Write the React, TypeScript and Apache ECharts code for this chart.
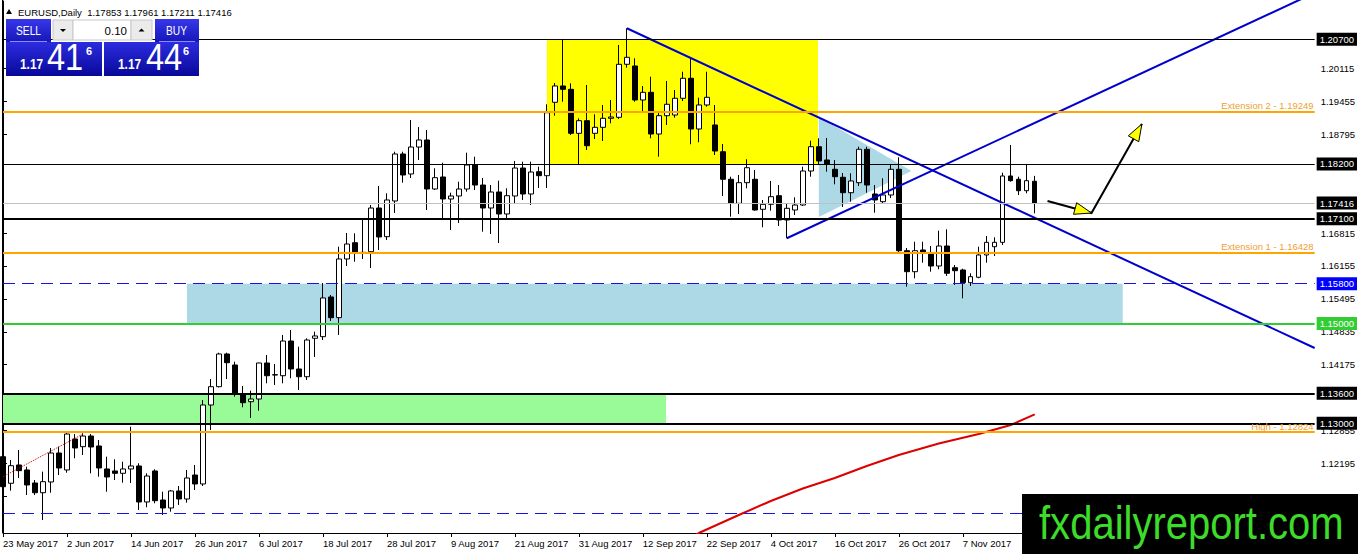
import { useEffect, useRef } from 'react';
import * as echarts from 'echarts';

const FONT = '"Liberation Sans", Arial, sans-serif';

// one tick label every 8 daily bars, starting at bar 0
const xTickLabels = [
  '23 May 2017', '2 Jun 2017', '14 Jun 2017', '26 Jun 2017', '6 Jul 2017', '18 Jul 2017',
  '28 Jul 2017', '9 Aug 2017', '21 Aug 2017', '31 Aug 2017', '12 Sep 2017', '22 Sep 2017',
  '4 Oct 2017', '16 Oct 2017', '26 Oct 2017', '7 Nov 2017',
];

// the ticks that the price boxes do not cover
const yTickValues = [
  1.20115, 1.19455, 1.18795, 1.16815, 1.16155,
  1.15495, 1.14835, 1.14175, 1.12855, 1.12195, 1.11535,
];

// EURUSD daily, [open, high, low, close]
const candles = [
  [1.12330, 1.12665, 1.11703, 1.11729], [1.11797, 1.12264, 1.11649, 1.12150],
  [1.12164, 1.12465, 1.11903, 1.12050], [1.12064, 1.12130, 1.11562, 1.11763],
  [1.11803, 1.11863, 1.11562, 1.11608], [1.11608, 1.12030, 1.11061, 1.11829],
  [1.11823, 1.12505, 1.11608, 1.12404], [1.12404, 1.12531, 1.11963, 1.12104],
  [1.12064, 1.12832, 1.12009, 1.12785], [1.12685, 1.12785, 1.12298, 1.12505],
  [1.12531, 1.12800, 1.12364, 1.12745], [1.12745, 1.12785, 1.11997, 1.12525],
  [1.12545, 1.12665, 1.11929, 1.12104], [1.12084, 1.12330, 1.11628, 1.11923],
  [1.12044, 1.12278, 1.11863, 1.11997], [1.11997, 1.12230, 1.11809, 1.12084],
  [1.12084, 1.12932, 1.11803, 1.12144], [1.12144, 1.12198, 1.11262, 1.11422],
  [1.11422, 1.11997, 1.11316, 1.11943], [1.12044, 1.12078, 1.11396, 1.11448],
  [1.11462, 1.11628, 1.11161, 1.11302], [1.11302, 1.11663, 1.11227, 1.11643],
  [1.11643, 1.11743, 1.11362, 1.11482], [1.11482, 1.12064, 1.11408, 1.11903],
  [1.11963, 1.12164, 1.11663, 1.11783], [1.11783, 1.13467, 1.11743, 1.13367],
  [1.13367, 1.13888, 1.12866, 1.13734], [1.13734, 1.14416, 1.13720, 1.14390],
  [1.14390, 1.14416, 1.13888, 1.14215], [1.14169, 1.14235, 1.13533, 1.13608],
  [1.13588, 1.13748, 1.13321, 1.13413], [1.13433, 1.13654, 1.13106, 1.13487],
  [1.13487, 1.14215, 1.13253, 1.14209], [1.14209, 1.14370, 1.13802, 1.13954],
  [1.13968, 1.14189, 1.13768, 1.13975], [1.13954, 1.14771, 1.13802, 1.14650],
  [1.14650, 1.14871, 1.13902, 1.14089], [1.14089, 1.14536, 1.13668, 1.13934],
  [1.13934, 1.14704, 1.13868, 1.14670], [1.14704, 1.14837, 1.14329, 1.14751],
  [1.14737, 1.15813, 1.14670, 1.15513], [1.15533, 1.15573, 1.15051, 1.15118],
  [1.15118, 1.16541, 1.14771, 1.16295], [1.16295, 1.16816, 1.16154, 1.16595],
  [1.16621, 1.16810, 1.16240, 1.16409], [1.16421, 1.17077, 1.16295, 1.16428],
  [1.16441, 1.17377, 1.16114, 1.17317], [1.17317, 1.17758, 1.16475, 1.16736],
  [1.16742, 1.17612, 1.16676, 1.17478], [1.17458, 1.18446, 1.17217, 1.18400],
  [1.18400, 1.18446, 1.17825, 1.17979], [1.17999, 1.19082, 1.17919, 1.18540],
  [1.18540, 1.18941, 1.18280, 1.18681], [1.18681, 1.18881, 1.17277, 1.17698],
  [1.17698, 1.18113, 1.17678, 1.17925], [1.17939, 1.18226, 1.17117, 1.17498],
  [1.17498, 1.17624, 1.16876, 1.17558], [1.17558, 1.17845, 1.17016, 1.17698],
  [1.17698, 1.18426, 1.17644, 1.18179], [1.18179, 1.18346, 1.17678, 1.17778],
  [1.17778, 1.17919, 1.16842, 1.17317], [1.17317, 1.17778, 1.16796, 1.17638],
  [1.17638, 1.17865, 1.16615, 1.17197], [1.17197, 1.17712, 1.17077, 1.17564],
  [1.17558, 1.18260, 1.17411, 1.18119], [1.18119, 1.18246, 1.17478, 1.17598],
  [1.17598, 1.18246, 1.17377, 1.18039], [1.18045, 1.18145, 1.17718, 1.17965],
  [1.17965, 1.19397, 1.17718, 1.19228], [1.19437, 1.19824, 1.19168, 1.19764],
  [1.19764, 1.20686, 1.19449, 1.19697], [1.19697, 1.19818, 1.18781, 1.18815],
  [1.18815, 1.19116, 1.18194, 1.19068], [1.19068, 1.19784, 1.18480, 1.18566],
  [1.18815, 1.19196, 1.18701, 1.18935], [1.18935, 1.19383, 1.18661, 1.19116],
  [1.19116, 1.19483, 1.19016, 1.19142], [1.19136, 1.20586, 1.19102, 1.20199],
  [1.20199, 1.20921, 1.20131, 1.20339], [1.20165, 1.20319, 1.19449, 1.19483],
  [1.19483, 1.19764, 1.19262, 1.19637], [1.19637, 1.19950, 1.18715, 1.18801],
  [1.18801, 1.19236, 1.18346, 1.19168], [1.19168, 1.19864, 1.18982, 1.19397],
  [1.19182, 1.19683, 1.19128, 1.19517], [1.19517, 1.20050, 1.19463, 1.19918],
  [1.19918, 1.20319, 1.18595, 1.18901], [1.18901, 1.19529, 1.18635, 1.19383],
  [1.19383, 1.20050, 1.19349, 1.19537], [1.18982, 1.19383, 1.18380, 1.18460],
  [1.18446, 1.18601, 1.17558, 1.17893], [1.17893, 1.17945, 1.17143, 1.17411],
  [1.17411, 1.17979, 1.17197, 1.17825], [1.17825, 1.18294, 1.17712, 1.18125],
  [1.17893, 1.18079, 1.17263, 1.17277], [1.17291, 1.17478, 1.16930, 1.17391],
  [1.17391, 1.17859, 1.17263, 1.17544], [1.17564, 1.17778, 1.16956, 1.17077],
  [1.17077, 1.17411, 1.16710, 1.17311], [1.17277, 1.17532, 1.17177, 1.17377],
  [1.17377, 1.18145, 1.17357, 1.18059], [1.18059, 1.18667, 1.17945, 1.18546],
  [1.18546, 1.18715, 1.18179, 1.18260], [1.18280, 1.18721, 1.18045, 1.18200],
  [1.18093, 1.18280, 1.17792, 1.17945], [1.17933, 1.18019, 1.17337, 1.17624],
  [1.17624, 1.18013, 1.17444, 1.17859], [1.17825, 1.18546, 1.17758, 1.18494],
  [1.18494, 1.18546, 1.17624, 1.17778], [1.17598, 1.17778, 1.17223, 1.17478],
  [1.17444, 1.17913, 1.17411, 1.17578], [1.17578, 1.18179, 1.17518, 1.18093],
  [1.18093, 1.18334, 1.16395, 1.16461], [1.16461, 1.16515, 1.15739, 1.16040],
  [1.16040, 1.16641, 1.15908, 1.16461], [1.16475, 1.16641, 1.16220, 1.16421],
  [1.16409, 1.16555, 1.16040, 1.16154], [1.16154, 1.16862, 1.16088, 1.16555],
  [1.16555, 1.16890, 1.15954, 1.16008], [1.16120, 1.16174, 1.15773, 1.16060],
  [1.16074, 1.16100, 1.15506, 1.15819], [1.15819, 1.16008, 1.15753, 1.15940],
  [1.15928, 1.16541, 1.15908, 1.16375], [1.16375, 1.16756, 1.16220, 1.16629],
  [1.16541, 1.16730, 1.16355, 1.16629], [1.16629, 1.18025, 1.16575, 1.17959],
  [1.17959, 1.18581, 1.17845, 1.17865], [1.17893, 1.17945, 1.17578, 1.17664],
  [1.17664, 1.18200, 1.17612, 1.17865], [1.17853, 1.17961, 1.17211, 1.17416],
];

// horizontal levels drawn on the chart
const levelValues = [1.207, 1.19249, 1.182, 1.17416, 1.171, 1.16428, 1.158, 1.15, 1.136, 1.13, 1.12824, 1.112];
const levelCaptions = ['', 'Extension 2 - 1.19249', '', '', '', 'Extension 1 - 1.16428', '', '', '', '', 'High - 1.12824', ''];

// [bar, price] points
const maPoints = [
  [86, 1.10700], [87, 1.10800], [92, 1.11161], [96, 1.11442], [100, 1.11693], [104, 1.11903],
  [108, 1.12144], [112, 1.12364], [117, 1.12595], [122, 1.12785], [126, 1.12966], [129, 1.13180],
];
const dottedPoints = [[0, 1.11929], [10, 1.12785]];
const downTrend = [[78, 1.20921], [164, 1.14510]];
const upTrend = [[98, 1.16710], [164, 1.21632]];
const arrowPath = [[130.6, 1.17458], [136.1, 1.17217], [142.4, 1.19002]];

// zones: [fromBar, toBar, lowPrice, highPrice]
const yellowZone = [68, 101.9, 1.182, 1.207];
const blueZone = [23, 140, 1.15, 1.158];
const greenZone = [0, 82.9, 1.13, 1.136];
const blueWedge = [[102, 1.19142], [102, 1.17137], [113.6, 1.18059]];

const BAR_SLOTS = 165;

const levelLook = [
  { color: '#000000', width: 1, box: '#000000' },
  { color: '#FFA500', width: 2 },
  { color: '#000000', width: 1, box: '#000000' },
  { color: '#C0C0C0', width: 1, box: '#000000' },
  { color: '#000000', width: 2, box: '#000000' },
  { color: '#FFA500', width: 2 },
  { color: '#1414E6', width: 1.2, dash: true, box: '#0000FF' },
  { color: '#32CD32', width: 2, box: '#32CD32' },
  { color: '#000000', width: 2, box: '#000000' },
  { color: '#000000', width: 2, box: '#000000' },
  { color: '#FFA500', width: 2 },
  { color: '#1414E6', width: 1.2, dash: true },
];

const grad = (top: string, bottom: string) =>
  new echarts.graphic.LinearGradient(0, 0, 0, 1, [
    { offset: 0, color: top },
    { offset: 1, color: bottom },
  ]);

const txt = (
  text: string,
  x: number,
  y: number,
  size: number,
  fill: string,
  align = 'left',
  weight = 'normal',
  scaleX = 1,
) => ({
  type: 'text',
  x,
  y,
  scaleX,
  style: {
    text,
    fill,
    fontSize: size,
    fontFamily: FONT,
    fontWeight: weight,
    align,
    textAlign: align,
    verticalAlign: 'middle',
    textVerticalAlign: 'middle',
  },
});

function panelGraphics() {
  const els: any[] = [];
  // left frame of the chart window
  els.push({ type: 'line', shape: { x1: 2.5, y1: 0, x2: 2.5, y2: 533 }, style: { stroke: '#000', lineWidth: 1 } });

  // title
  els.push({ type: 'polygon', shape: { points: [[6, 14], [12, 14], [9, 9]] }, style: { fill: '#000' } });
  els.push(txt('EURUSD,Daily  1.17853 1.17961 1.17211 1.17416', 18, 12, 9.5, '#000'));

  // sell / buy buttons
  els.push({ type: 'rect', shape: { x: 6, y: 19, width: 45, height: 23 }, style: { fill: grad('#3838ea', '#1616b8') } });
  els.push({ type: 'line', shape: { x1: 10, y1: 41.5, x2: 47, y2: 41.5 }, style: { stroke: '#8a8aff', lineWidth: 1 } });
  els.push(txt('SELL', 28.5, 30.5, 12, '#fff', 'center', 'normal', 0.85));
  els.push({ type: 'rect', shape: { x: 155, y: 19, width: 44, height: 23 }, style: { fill: grad('#3838ea', '#1616b8') } });
  els.push({ type: 'line', shape: { x1: 159, y1: 41.5, x2: 195, y2: 41.5 }, style: { stroke: '#8a8aff', lineWidth: 1 } });
  els.push(txt('BUY', 176.5, 30.5, 12, '#fff', 'center', 'normal', 0.85));

  // lot size spinner
  els.push({ type: 'rect', shape: { x: 53, y: 20, width: 20, height: 20 }, style: { fill: '#ebebeb', stroke: '#c8c8c8', lineWidth: 1 } });
  els.push({ type: 'polygon', shape: { points: [[60, 29], [66, 29], [63, 32]] }, style: { fill: '#000' } });
  els.push({ type: 'rect', shape: { x: 73, y: 20, width: 58, height: 20 }, style: { fill: '#fff', stroke: '#c8c8c8', lineWidth: 1 } });
  els.push(txt('0.10', 127, 30.5, 11.5, '#000', 'right'));
  els.push({ type: 'rect', shape: { x: 131, y: 20, width: 21, height: 20 }, style: { fill: '#ebebeb', stroke: '#c8c8c8', lineWidth: 1 } });
  els.push({ type: 'polygon', shape: { points: [[138.5, 31.5], [144.5, 31.5], [141.5, 28.5]] }, style: { fill: '#000' } });

  // quotes
  els.push({ type: 'rect', shape: { x: 6, y: 42, width: 96, height: 34 }, style: { fill: grad('#2c2ce0', '#08089a') } });
  els.push({ type: 'rect', shape: { x: 104, y: 42, width: 95, height: 34 }, style: { fill: grad('#2c2ce0', '#08089a') } });
  els.push(txt('1.17', 20, 64, 14, '#fff', 'left', 'bold', 0.85));
  els.push(txt('41', 47, 57, 37, '#fff', 'left', 'normal', 0.88));
  els.push(txt('6', 86, 51, 11, '#fff', 'left', 'bold'));
  els.push(txt('1.17', 118, 64, 14, '#fff', 'left', 'bold', 0.85));
  els.push(txt('44', 146, 57, 37, '#fff', 'left', 'normal', 0.88));
  els.push(txt('6', 183, 51, 11, '#fff', 'left', 'bold'));

  // watermark
  els.push({ type: 'rect', shape: { x: 1022, y: 494, width: 336, height: 60 }, style: { fill: '#000' } });
  els.push(txt('fxdailyreport.com', 1039, 523, 46, '#3ddc2a', 'left', 'normal', 0.87));

  return els.map((e) => ({ ...e, z: 100 }));
}

export default function App() {
  const chartRef = useRef<HTMLDivElement>(null);

  useEffect(() => {
    if (!chartRef.current) return;
    const chart = echarts.init(chartRef.current, undefined, { renderer: 'svg' });

    const categories = Array.from({ length: BAR_SLOTS }, (_, i) => String(i));
    const isTick = (index: number) => index % 8 === 0 && index / 8 < xTickLabels.length;

    const zoneList = [yellowZone, blueZone, greenZone];
    const zoneFill = ['#FFFF00', '#ADD8E6', '#98FB98'];

    const markData = levelValues.map((v, i) => {
      const look = levelLook[i];
      const caption = levelCaptions[i];
      let label: any = { show: false };
      if (look.box) {
        label = {
          show: true,
          position: 'end',
          distance: 2,
          formatter: v.toFixed(5),
          color: '#fff',
          backgroundColor: look.box,
          padding: [2, 3, 1, 3],
          fontSize: 9.5,
          fontFamily: FONT,
        };
      } else if (caption) {
        label = {
          show: true,
          position: 'insideEndTop',
          distance: 1,
          formatter: caption,
          color: '#F0A030',
          fontSize: 9.5,
          fontFamily: FONT,
        };
      }
      return {
        yAxis: v,
        lineStyle: { color: look.color, width: look.width, type: look.dash ? [12, 7] : 'solid' },
        label,
      };
    });

    const option: any = {
      animation: false,
      backgroundColor: '#fff',
      grid: { left: 3, right: 43, top: 1, bottom: 21 },
      xAxis: [
        {
          type: 'category',
          data: categories,
          boundaryGap: false,
          axisLine: { lineStyle: { color: '#000', width: 1 } },
          axisTick: { interval: (index: number) => isTick(index), length: 4, lineStyle: { color: '#000' } },
          axisLabel: {
            interval: (index: number) => isTick(index),
            formatter: (_v: string, index: number) => xTickLabels[index / 8] ?? '',
            align: 'left',
            margin: 5,
            color: '#000',
            fontSize: 9.5,
            fontFamily: FONT,
          },
          splitLine: { show: false },
        },
        { type: 'value', min: 0, max: BAR_SLOTS - 1, show: false },
      ],
      yAxis: {
        type: 'value',
        position: 'right',
        min: 1.108,
        max: 1.21468,
        scale: true,
        axisLine: { show: true, lineStyle: { color: '#000', width: 1 } },
        axisTick: { show: true, length: 4, customValues: yTickValues, lineStyle: { color: '#000' } },
        axisLabel: {
          customValues: yTickValues,
          formatter: (v: number) => v.toFixed(5),
          margin: 6,
          color: '#000',
          fontSize: 9.5,
          fontFamily: FONT,
        },
        splitLine: { show: false },
      },
      graphic: panelGraphics(),
      series: [
        {
          name: 'zones',
          type: 'custom',
          xAxisIndex: 1,
          z: 1,
          silent: true,
          data: [...zoneList.map((zn) => [zn[0], zn[2]]), blueWedge[0]],
          renderItem: (params: any, api: any) => {
            const i = params.dataIndex;
            if (i < zoneList.length) {
              const [x0, x1, y0, y1] = zoneList[i];
              const a = api.coord([x0, y1]);
              const b = api.coord([x1, y0]);
              return {
                type: 'rect',
                shape: { x: a[0], y: a[1], width: b[0] - a[0], height: b[1] - a[1] },
                style: { fill: zoneFill[i] },
              };
            }
            return {
              type: 'polygon',
              shape: { points: blueWedge.map((p) => api.coord(p)) },
              style: { fill: '#ADD8E6' },
            };
          },
        },
        {
          name: 'levels',
          type: 'line',
          xAxisIndex: 1,
          z: 2,
          clip: false,
          data: [],
          markLine: { silent: true, precision: 5, symbol: ['none', 'none'], animation: false, data: markData },
        },
        {
          name: 'EURUSD',
          type: 'candlestick',
          xAxisIndex: 0,
          z: 3,
          barWidth: 5,
          data: candles.map(([o, h, l, c]) => [o, c, l, h]),
          itemStyle: { color: '#ffffff', color0: '#000000', borderColor: '#000000', borderColor0: '#000000', borderWidth: 1 },
        },
        {
          name: 'MA',
          type: 'line',
          xAxisIndex: 1,
          z: 3,
          symbol: 'none',
          data: maPoints,
          lineStyle: { color: '#DD0000', width: 2 },
        },
        {
          name: 'MA short',
          type: 'line',
          xAxisIndex: 1,
          z: 4,
          symbol: 'none',
          data: dottedPoints,
          lineStyle: { color: '#CC0000', width: 1, type: 'dotted' },
        },
        {
          name: 'down trend',
          type: 'line',
          xAxisIndex: 1,
          z: 4,
          symbol: 'none',
          data: downTrend,
          lineStyle: { color: '#0000CD', width: 2 },
        },
        {
          name: 'up trend',
          type: 'line',
          xAxisIndex: 1,
          z: 4,
          symbol: 'none',
          data: upTrend,
          lineStyle: { color: '#0000CD', width: 2 },
        },
        {
          name: 'arrows',
          type: 'custom',
          xAxisIndex: 1,
          z: 5,
          silent: true,
          data: [arrowPath[0]],
          renderItem: (_params: any, api: any) => {
            const pts = arrowPath.map((p) => api.coord(p));
            const children: any[] = [
              { type: 'polyline', shape: { points: pts }, style: { stroke: '#000', lineWidth: 2, fill: null } },
            ];
            for (let k = 1; k < pts.length; k++) {
              const [x0, y0] = pts[k - 1];
              const [x1, y1] = pts[k];
              const len = Math.hypot(x1 - x0, y1 - y0);
              const ux = (x1 - x0) / len;
              const uy = (y1 - y0) / len;
              const bx = x1 - ux * 17;
              const by = y1 - uy * 17;
              children.push({
                type: 'polygon',
                shape: { points: [[x1, y1], [bx - uy * 6, by + ux * 6], [bx + uy * 6, by - ux * 6]] },
                style: { fill: '#FFFF00', stroke: '#000', lineWidth: 1 },
              });
            }
            return { type: 'group', children };
          },
        },
      ],
    };

    chart.setOption(option, true);

    return () => {
      chart.dispose();
    };
  }, []);

  return (
    <div
      ref={chartRef}
      style={{ position: 'fixed', left: 0, top: 0, width: 1358, height: 554, background: '#fff' }}
    />
  );
}
